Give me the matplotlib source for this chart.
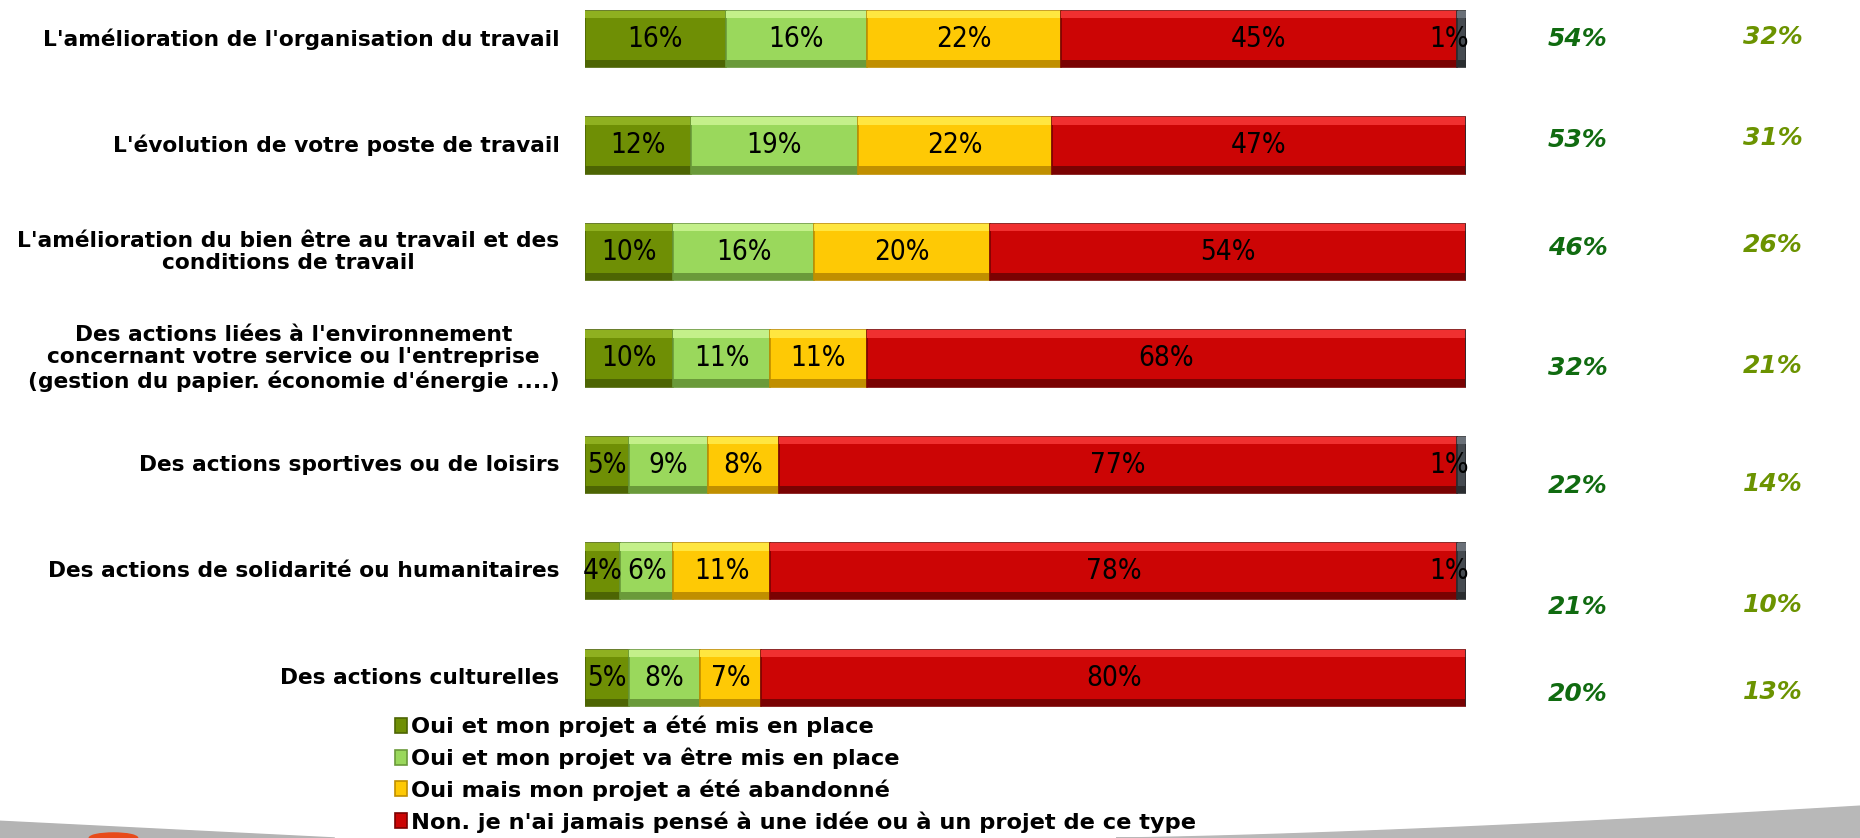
import numpy as np
import matplotlib
matplotlib.use('Agg')
from matplotlib import pyplot as plt
from matplotlib.patches import Polygon, Ellipse

# data, rows from top to bottom
categories = ["L'amélioration de l'organisation du travail",
              "L'évolution de votre poste de travail",
              "L'amélioration du bien être au travail et des\nconditions de travail",
              "Des actions liées à l'environnement\nconcernant votre service ou l'entreprise\n(gestion du papier. économie d'énergie ....)",
              "Des actions sportives ou de loisirs",
              "Des actions de solidarité ou humanitaires",
              "Des actions culturelles"]
series_names = ["Oui et mon projet a été mis en place",
                "Oui et mon projet va être mis en place",
                "Oui mais mon projet a été abandonné",
                "Non. je n'ai jamais pensé à une idée ou à un projet de ce type",
                "_nsp"]
mis_en_place = [16, 12, 10, 10, 5, 4, 5]
va_etre = [16, 19, 16, 11, 9, 6, 8]
abandonne = [22, 22, 20, 11, 8, 11, 7]
jamais = [45, 47, 54, 68, 77, 78, 80]
nsp = [1, 0, 0, 0, 1, 1, 0]
total_oui = [54, 53, 46, 32, 22, 21, 20]
total_concret = [32, 31, 26, 21, 14, 10, 13]

colors = ['#6f8f05', '#9ad85c', '#fec905', '#cc0505', '#454a50']
lights = ['#8fb020', '#c4f08a', '#ffe640', '#f03030', '#6a7078']
darks = ['#4d6503', '#6a9a3a', '#c08f00', '#7a0202', '#2a2d30']
note_shift = [0, -0.05, -0.04, 0.09, 0.2, 0.34, 0.15]  # vertical offsets of the right columns

fig = plt.figure(figsize=(18.6, 8.38), dpi=100)
ax = fig.add_axes([0.3145, 0.1277, 0.4737, 0.864])

y = np.arange(len(categories))
values = [mis_en_place, va_etre, abandonne, jamais, nsp]
h = 0.53
strip = 0.07
lbl_font = dict(fontsize=20, family='DejaVu Sans', fontstretch='condensed')
left = np.zeros(len(categories))
handles = []
for vals, name, col, lt, dk in zip(values, series_names, colors, lights, darks):
    vals = np.array(vals, dtype=float)
    b = ax.barh(y, vals, left=left, height=h, color=col, edgecolor=dk, linewidth=1.2, label=name)
    handles.append(b)
    # bevel look: light strip on top, dark strip at bottom
    ax.barh(y - h / 2 + strip / 2, vals, left=left, height=strip, color=lt, linewidth=0)
    ax.barh(y + h / 2 - strip / 2, vals, left=left, height=strip, color=dk, linewidth=0)
    for i, v in enumerate(vals):
        if v <= 0:
            continue
        if name == '_nsp':
            ax.text(left[i] + v + 0.3, y[i], '%d%%' % v, ha='right', va='center', clip_on=False, **lbl_font)
        else:
            ax.text(left[i] + v / 2, y[i], '%d%%' % v, ha='center', va='center', **lbl_font)
    left += vals

for i, cat in enumerate(categories):
    ax.text(-2.9, y[i], cat, ha='right', va='center', multialignment='center',
            fontsize=15.7, fontweight='bold', family='DejaVu Sans', linespacing=1.15)
    ax.text(112.7, y[i] + note_shift[i], '%d%%' % total_oui[i], ha='center', va='center',
            fontsize=18, fontweight='bold', fontstyle='italic', color='#106b10',
            family='DejaVu Sans', clip_on=False)
    ax.text(134.8, y[i] + note_shift[i] - 0.02, '%d%%' % total_concret[i], ha='center', va='center',
            fontsize=18, fontweight='bold', fontstyle='italic', color='#6b9300',
            family='DejaVu Sans', clip_on=False)

ax.set_xlim(0, 100)
ax.set_ylim(6.5, -0.3)
ax.axis('off')

leg = fig.legend(handles=handles[:4], labels=series_names[:4], loc='upper left',
                 bbox_to_anchor=(0.2125, 0.146), frameon=False, handlelength=0.5,
                 handleheight=0.65, handletextpad=0.2, labelspacing=0.46,
                 borderpad=0, borderaxespad=0,
                 prop={'family': 'DejaVu Sans', 'weight': 'bold', 'size': 16.2})

# grey swoosh decorations at the bottom
xs = np.linspace(0.6, 1.0, 50)
top = 0.038 * ((xs - 0.6) / 0.4) ** 1.4
pts = list(zip(xs, top)) + [(1.0, 0.0), (0.6, 0.0)]
fig.patches.append(Polygon(pts, closed=True, transform=fig.transFigure, color='#b8b8b8', zorder=0))
fig.patches.append(Polygon([(0, 0), (0.18, 0), (0, 0.02)], closed=True,
                           transform=fig.transFigure, color='#b4b4b4', zorder=0))
fig.patches.append(Ellipse((0.061, 0.0), 0.026, 0.012, transform=fig.transFigure,
                           color='#e84a1a', zorder=1))

plt.savefig('out.png', dpi=100)
